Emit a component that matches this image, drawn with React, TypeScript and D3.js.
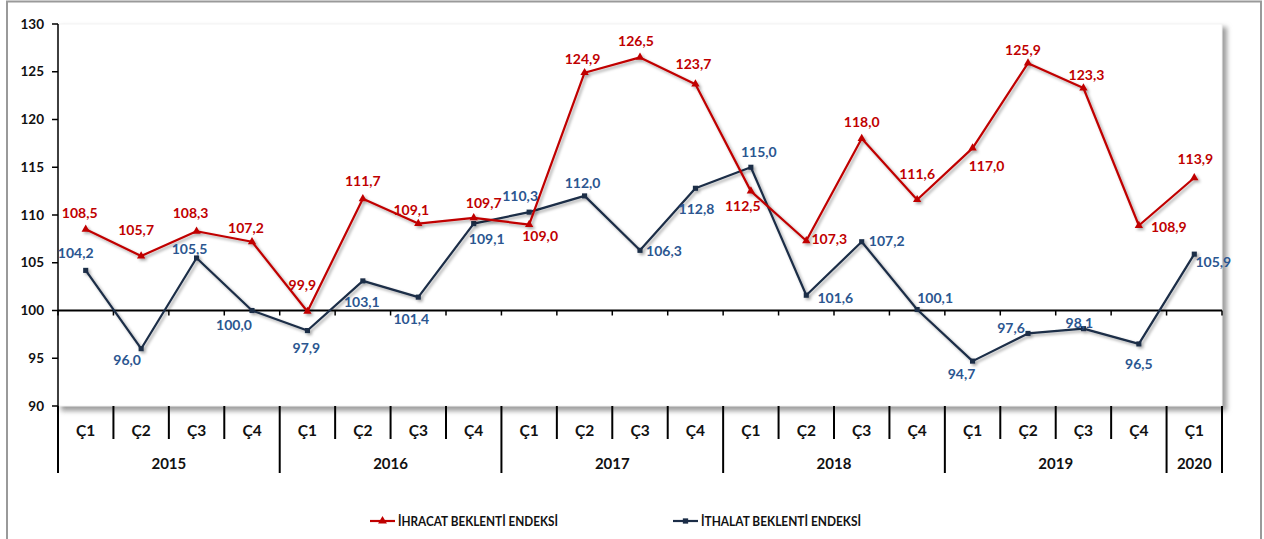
import * as d3 from 'd3'
import React, { useEffect, useRef } from 'react'

const quarters = ['Ç1', 'Ç2', 'Ç3', 'Ç4', 'Ç1', 'Ç2', 'Ç3', 'Ç4', 'Ç1', 'Ç2', 'Ç3', 'Ç4',
  'Ç1', 'Ç2', 'Ç3', 'Ç4', 'Ç1', 'Ç2', 'Ç3', 'Ç4', 'Ç1']
const years = ['2015', '2016', '2017', '2018', '2019', '2020']
const quartersPerYear = [4, 4, 4, 4, 4, 1]
const exportIndex = [108.5, 105.7, 108.3, 107.2, 99.9, 111.7, 109.1, 109.7, 109.0, 124.9, 126.5,
  123.7, 112.5, 107.3, 118.0, 111.6, 117.0, 125.9, 123.3, 108.9, 113.9]
const importIndex = [104.2, 96.0, 105.5, 100.0, 97.9, 103.1, 101.4, 109.1, 110.3, 112.0, 106.3,
  112.8, 115.0, 101.6, 107.2, 100.1, 94.7, 97.6, 98.1, 96.5, 105.9]
const yTicks = [90, 95, 100, 105, 110, 115, 120, 125, 130]
const seriesNames = ['İHRACAT BEKLENTİ ENDEKSİ', 'İTHALAT BEKLENTİ ENDEKSİ']

// where each data label sits relative to its point (dx, dy), as placed in the original
const exportLabelOffsets = [[-6, -16], [-5, -26], [-6, -18], [-6, -14], [-5, -26], [0, -18], [-7, -13],
  [10, -15], [11, 12], [-2, -14], [-4, -16], [-2, -20], [-8, 15], [23, -2], [0, -17], [0, -26],
  [14, 18], [-5, -13], [3, -13], [30, 2], [1, -19]]
const importLabelOffsets = [[-10, -17], [-14, 11], [-7, -9], [-18, 15], [-1, 18], [-1, 21], [-7, 22],
  [13, 16], [-9, -16], [-2, -13], [24, 1], [1, 21], [8, -15], [29, 3], [25, -1], [18, -11],
  [-11, 13], [-17, -5], [-4, -6], [0, 20], [19, 8]]

const RED = '#c00000'
const NAVY = '#1b2d47'
const BLUE_TEXT = '#2b5690'
const FONT = 'Lato, "Open Sans", sans-serif'

const fmt = (v: number) => d3.format('.1f')(v).replace('.', ',')

function ExpectationChart () {
  const node = useRef<SVGSVGElement>(null)

  useEffect(() => {
    document.body.style.margin = '0'
    const width = 1264; const height = 539
    const left = 58; const right = 1222; const top = 24; const bottom = 406
    const svg = d3.select(node.current)
    svg.selectAll('*').remove()
    svg.attr('width', width).attr('height', height).attr('viewBox', `0 0 ${width} ${height}`)
      .style('font-family', FONT)

    const defs = svg.append('defs')
    defs.append('filter').attr('id', 'lineShadow')
      .attr('x', '-5%').attr('y', '-5%').attr('width', '110%').attr('height', '110%')
      .append('feDropShadow')
      .attr('dx', 2).attr('dy', 2).attr('stdDeviation', 1.4)
      .attr('flood-color', '#000').attr('flood-opacity', 0.35)
    defs.append('filter').attr('id', 'plotShadow')
      .append('feGaussianBlur').attr('stdDeviation', 2.5)

    const x = d3.scaleBand<number>().domain(d3.range(quarters.length)).range([left, right])
    const y = d3.scaleLinear().domain([90, 130]).range([bottom, top])
    const cx = (i: number) => x(i)! + x.bandwidth() / 2

    // chart frame
    svg.append('rect')
      .attr('x', 7).attr('y', 1.5).attr('width', 1254).attr('height', 560)
      .attr('fill', '#fff').attr('stroke', '#9a9a9a').attr('stroke-width', 2)

    // plot area with soft shadow
    svg.append('rect')
      .attr('x', left + 3).attr('y', top + 3).attr('width', right - left + 2).attr('height', bottom - top + 2)
      .attr('fill', '#9d9d9d').attr('filter', 'url(#plotShadow)')
    svg.append('rect')
      .attr('x', left).attr('y', top).attr('width', right - left).attr('height', bottom - top)
      .attr('fill', '#fff').attr('stroke', '#f3f3f3').attr('stroke-width', 1)

    // y axis
    const yAxis = svg.append('g')
    yAxis.append('line')
      .attr('x1', left).attr('x2', left).attr('y1', top).attr('y2', 473)
      .attr('stroke', '#000').attr('stroke-width', 1.5)
    yAxis.selectAll('line.tick').data(yTicks).enter().append('line')
      .attr('class', 'tick')
      .attr('x1', left - 6).attr('x2', left).attr('y1', d => y(d)).attr('y2', d => y(d))
      .attr('stroke', '#000').attr('stroke-width', 1.5)
    yAxis.selectAll('text').data(yTicks).enter().append('text')
      .attr('x', 44).attr('y', d => y(d)).attr('dy', '0.35em')
      .attr('text-anchor', 'end').attr('font-size', 13.5).attr('font-weight', 700)
      .attr('fill', '#111').text(d => d)

    // the 100 baseline with its ticks
    const boundaries = d3.range(quarters.length + 1).map(i => left + i * x.step())
    svg.append('line')
      .attr('x1', left).attr('x2', right).attr('y1', y(100)).attr('y2', y(100))
      .attr('stroke', '#000').attr('stroke-width', 2)
    svg.selectAll('line.baseTick').data(boundaries).enter().append('line')
      .attr('class', 'baseTick')
      .attr('x1', d => d).attr('x2', d => d).attr('y1', y(100)).attr('y2', y(100) + 5)
      .attr('stroke', '#000').attr('stroke-width', 1.5)

    // category axis: quarters and years
    const yearStarts = Array.from(d3.cumsum([0, ...quartersPerYear]))
    const yearBoundaries = new Set(yearStarts)
    svg.selectAll('line.sep').data(boundaries).enter().append('line')
      .attr('class', 'sep')
      .attr('x1', d => d).attr('x2', d => d).attr('y1', bottom)
      .attr('y2', (d, i) => yearBoundaries.has(i) ? 473 : 439)
      .attr('stroke', '#000').attr('stroke-width', 2)
    svg.selectAll('text.quarter').data(quarters).enter().append('text')
      .attr('class', 'quarter')
      .attr('x', (d, i) => cx(i)).attr('y', 431).attr('dy', '0.35em')
      .attr('text-anchor', 'middle').attr('font-size', 15.5).attr('font-weight', 700)
      .attr('fill', '#111').text(d => d)
    svg.selectAll('text.year').data(years).enter().append('text')
      .attr('class', 'year')
      .attr('x', (d, i) => left + (yearStarts[i] + quartersPerYear[i] / 2) * x.step())
      .attr('y', 464).attr('dy', '0.35em')
      .attr('text-anchor', 'middle').attr('font-size', 15).attr('font-weight', 700)
      .attr('fill', '#111').text(d => d)

    // series
    const line = d3.line<number>().x((d, i) => cx(i)).y(d => y(d))
    const series = [
      { values: importIndex, color: NAVY, textColor: BLUE_TEXT, symbol: d3.symbolSquare, size: 26, offsets: importLabelOffsets },
      { values: exportIndex, color: RED, textColor: RED, symbol: d3.symbolTriangle, size: 30, offsets: exportLabelOffsets }
    ]
    series.forEach(s => {
      const g = svg.append('g').attr('filter', 'url(#lineShadow)')
      g.append('path')
        .attr('d', line(s.values))
        .attr('fill', 'none').attr('stroke', s.color).attr('stroke-width', 2.2)
        .attr('stroke-linejoin', 'round')
      g.selectAll('path.marker').data(s.values).enter().append('path')
        .attr('class', 'marker')
        .attr('transform', (d, i) => `translate(${cx(i)},${y(d)})`)
        .attr('d', d3.symbol(s.symbol, s.size)())
        .attr('fill', s.color)
    })
    series.forEach(s => {
      svg.append('g').selectAll('text').data(s.values).enter().append('text')
        .attr('x', (d, i) => cx(i) + s.offsets[i][0])
        .attr('y', (d, i) => y(d) + s.offsets[i][1])
        .attr('dy', '0.35em')
        .attr('text-anchor', 'middle').attr('font-size', 14).attr('font-weight', 700)
        .attr('fill', s.textColor).text(d => fmt(d))
    })

    // legend
    const legend = [
      { name: seriesNames[0], color: RED, symbol: d3.symbolTriangle, size: 34, x: 370 },
      { name: seriesNames[1], color: NAVY, symbol: d3.symbolSquare, size: 28, x: 673 }
    ]
    legend.forEach(l => {
      const g = svg.append('g').attr('transform', `translate(${l.x},521)`)
      g.append('line').attr('x1', 0).attr('x2', 25).attr('stroke', l.color).attr('stroke-width', 2.2)
      g.append('path').attr('transform', 'translate(12.5,0)')
        .attr('d', d3.symbol(l.symbol, l.size)()).attr('fill', l.color)
      g.append('text').attr('x', 28).attr('dy', '0.35em')
        .attr('font-size', 13).attr('font-weight', 700).attr('fill', '#111')
        .attr('textLength', 160).attr('lengthAdjust', 'spacingAndGlyphs')
        .text(l.name)
    })
  }, [])

  return <svg ref={node} style={{ display: 'block' }} />
}

export default function App () {
  return <ExpectationChart />
}
